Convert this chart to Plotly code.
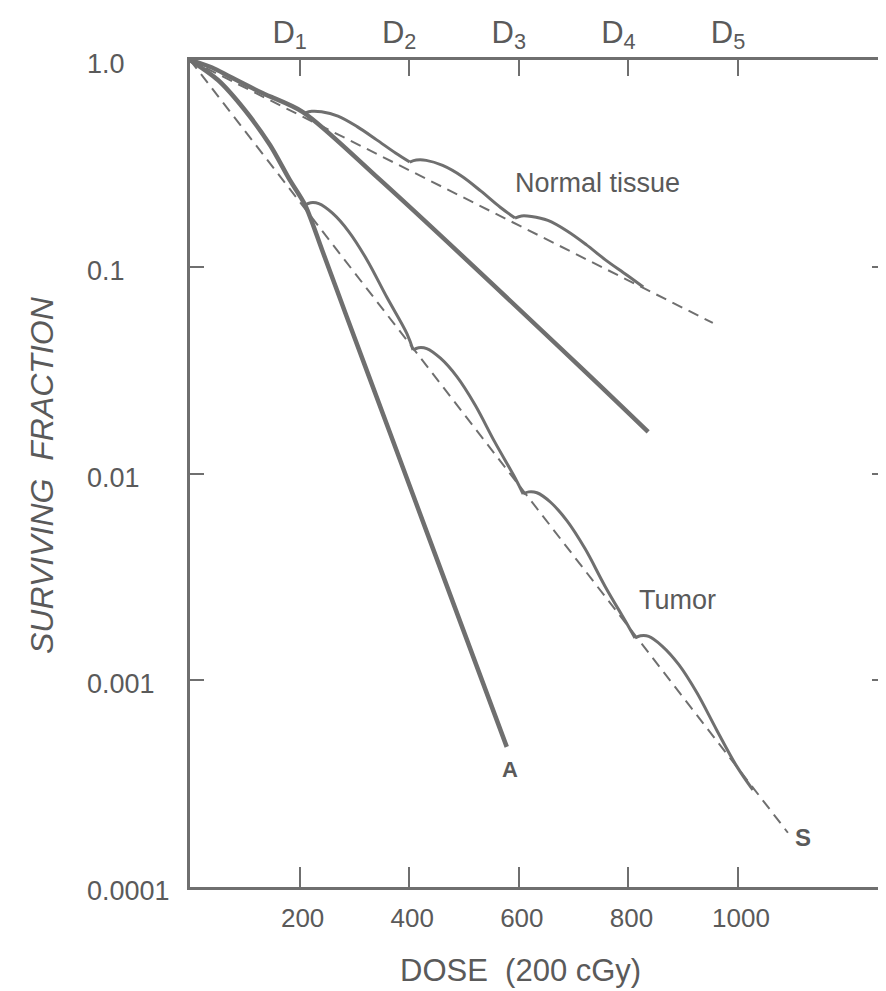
import plotly.graph_objects as go
import math

# ---------------- data ----------------
x_tick_vals = [200, 400, 600, 800, 1000]
x_tick_text = ["200", "400", "600", "800", "1000"]
top_tick_text = ["D<sub>1</sub>", "D<sub>2</sub>", "D<sub>3</sub>", "D<sub>4</sub>", "D<sub>5</sub>"]
y_tick_vals = [1.0, 0.1, 0.01, 0.001, 0.0001]
y_tick_text = ["1.0", "0.1", "0.01", "0.001", "0.0001"]
right_tick_vals = [0.1, 0.01, 0.001]

# single acute dose, tumor (curve A)
curve_a_dose = [0, 51, 100, 146, 182, 210, 241, 286, 365, 432, 578]
curve_a_sf = [1.0, 0.80, 0.573, 0.388, 0.263, 0.199, 0.1205, 0.0573, 0.0157, 0.00522, 0.000476]

# single acute dose, normal tissue (thick middle line)
normal_single_dose = [0, 40, 73, 133, 206, 347, 712, 836]
normal_single_sf = [1.0, 0.92, 0.83, 0.69, 0.56, 0.263, 0.0328, 0.0159]

# fractionated tumor: scallops after each fraction
tumor_frac_dose = [
    [210, 220, 235, 260, 290, 323, 359, 396, 407],
    [407, 417, 432, 457, 487, 520, 556, 594, 608],
    [608, 618, 633, 658, 688, 721, 757, 796, 812],
    [812, 822, 837, 862, 892, 925, 961, 998, 1027],
]
tumor_frac_sf = [
    [0.199, 0.204, 0.202, 0.1816, 0.1476, 0.1079, 0.0714, 0.0474, 0.0396],
    [0.0396, 0.0406, 0.0402, 0.0361, 0.0294, 0.0215, 0.01422, 0.00944, 0.00796],
    [0.00796, 0.00815, 0.00807, 0.00726, 0.0059, 0.00432, 0.00286, 0.0019, 0.0016],
    [0.0016, 0.00164, 0.00163, 0.00146, 0.00119, 0.00087, 0.000575, 0.000382, 0.000295],
]

# fractionated normal tissue scallops
normal_frac_dose = [
    [210, 222, 240, 270, 305, 340, 375, 401],
    [401, 413, 431, 461, 496, 531, 566, 593],
    [593, 605, 623, 653, 688, 723, 758, 797, 827],
]
normal_frac_sf = [
    [0.555, 0.565, 0.562, 0.535, 0.476, 0.412, 0.355, 0.321],
    [0.321, 0.328, 0.327, 0.309, 0.274, 0.232, 0.194, 0.172],
    [0.172, 0.176, 0.175, 0.1675, 0.149, 0.128, 0.108, 0.0912, 0.0798],
]

# effective (dashed) survival lines
normal_dash_dose = [0, 954]
normal_dash_sf = [1.0, 0.0535]
tumor_dash_dose = [0, 1091]
tumor_dash_sf = [1.0, 0.000183]

# ---------------- styling ----------------
LINE = "#6f6f6f"
TEXT = "#5a5a5a"
FONT = "Liberation Sans, Arial, sans-serif"

fig = go.Figure()

fig.add_trace(go.Scatter(x=normal_dash_dose, y=normal_dash_sf, mode="lines",
                         line=dict(color=LINE, width=2, dash="11px,7px")))
fig.add_trace(go.Scatter(x=tumor_dash_dose, y=tumor_dash_sf, mode="lines",
                         line=dict(color=LINE, width=2, dash="11px,7px"),
                         xaxis="x2", yaxis="y2"))

fig.add_trace(go.Scatter(x=curve_a_dose, y=curve_a_sf, mode="lines",
                         line=dict(color=LINE, width=4.5, shape="spline", smoothing=0.8)))
fig.add_trace(go.Scatter(x=normal_single_dose, y=normal_single_sf, mode="lines",
                         line=dict(color=LINE, width=4.5, shape="spline", smoothing=0.8)))

for xs, ys in zip(tumor_frac_dose, tumor_frac_sf):
    fig.add_trace(go.Scatter(x=xs, y=ys, mode="lines",
                             line=dict(color=LINE, width=3, shape="spline", smoothing=1.0)))
for xs, ys in zip(normal_frac_dose, normal_frac_sf):
    fig.add_trace(go.Scatter(x=xs, y=ys, mode="lines",
                             line=dict(color=LINE, width=3, shape="spline", smoothing=1.0)))

X_RANGE = [0, 1270]
Y_RANGE = [-4, 0]

# page body has an 8px margin, so the figure is made 8px smaller and margins shifted
fig.update_layout(
    width=878, height=983,
    margin=dict(l=182, r=0, t=52, b=104),
    paper_bgcolor="white", plot_bgcolor="white",
    showlegend=False,
    font=dict(family=FONT, color=TEXT),
    xaxis=dict(range=X_RANGE, showline=True, linewidth=2.5, linecolor=LINE,
               ticks="inside", ticklen=20, tickwidth=2, tickcolor=LINE,
               tickvals=x_tick_vals, ticktext=x_tick_text,
               tickfont=dict(size=26, color=TEXT, family=FONT),
               ticklabelstandoff=6, ticklabelshift=3,
               showgrid=False, zeroline=False),
    xaxis2=dict(range=X_RANGE, overlaying="x", side="top", anchor="y",
                showline=True, linewidth=2.5, linecolor=LINE,
                ticks="inside", ticklen=16, tickwidth=2, tickcolor=LINE,
                tickvals=x_tick_vals, ticktext=top_tick_text,
                tickfont=dict(size=31, color=TEXT, family=FONT),
                ticklabelstandoff=2, ticklabelshift=-10,
                showgrid=False, zeroline=False),
    yaxis=dict(type="log", range=Y_RANGE, showline=True, linewidth=2.5, linecolor=LINE,
               ticks="inside", ticklen=14, tickwidth=2, tickcolor=LINE,
               tickvals=y_tick_vals, showticklabels=False,
               showgrid=False, zeroline=False),
    yaxis2=dict(type="log", range=Y_RANGE, overlaying="y", side="right", anchor="x",
                showline=False, ticks="inside", ticklen=14, tickwidth=2, tickcolor=LINE,
                tickvals=right_tick_vals, showticklabels=False,
                showgrid=False, zeroline=False),
)

annotations = []
for v, t in zip(y_tick_vals, y_tick_text):
    annotations.append(dict(x=-0.151, xref="paper", y=math.log10(v), yref="y",
                            text=t, showarrow=False, xanchor="left", yanchor="middle",
                            yshift=-4, font=dict(size=27, color=TEXT, family=FONT)))

annotations += [
    dict(x=743, y=math.log10(0.254), xref="x", yref="y", text="Normal tissue",
         showarrow=False, font=dict(size=27, color=TEXT, family=FONT)),
    dict(x=889, y=math.log10(0.00245), xref="x", yref="y", text="Tumor",
         showarrow=False, font=dict(size=27, color=TEXT, family=FONT)),
    dict(x=584, y=math.log10(0.00037), xref="x", yref="y", text="<b>A</b>",
         showarrow=False, font=dict(size=22, color=TEXT, family=FONT)),
    dict(x=1119, y=math.log10(0.000173), xref="x", yref="y", text="<b>S</b>",
         showarrow=False, font=dict(size=24, color=TEXT, family=FONT)),
    dict(x=(520 - 190) / 696, y=(887 - 970) / 827, xref="paper", yref="paper",
         text="DOSE  (200 cGy)", showarrow=False, xanchor="center", yanchor="middle",
         font=dict(size=31, color=TEXT, family=FONT)),
    dict(x=(42 - 190) / 696, y=(887 - 475) / 827, xref="paper", yref="paper",
         text="<i>SURVIVING  FRACTION</i>", showarrow=False, textangle=-90,
         xanchor="center", yanchor="middle",
         font=dict(size=32, color=TEXT, family=FONT)),
]
fig.update_layout(annotations=annotations)

fig.write_html("out.html")
